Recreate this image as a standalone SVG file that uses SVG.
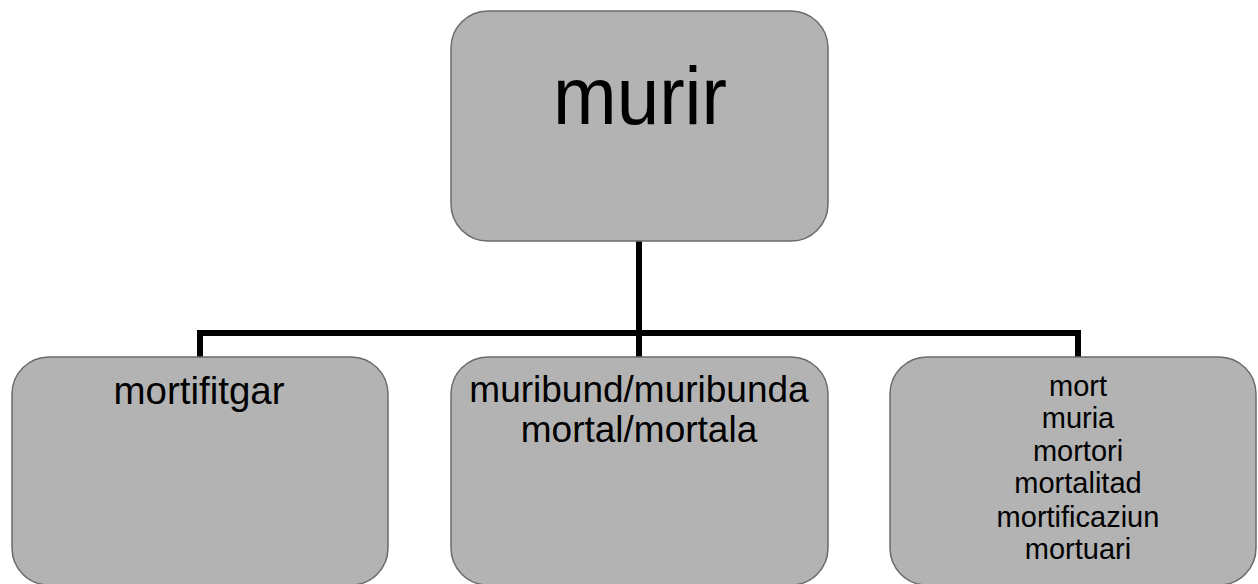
<svg xmlns="http://www.w3.org/2000/svg" width="1258" height="584" viewBox="0 0 1258 584">
  <style>
    .box { fill: #b3b3b3; stroke: #6b6b6b; stroke-width: 1.5; }
    .lbl { font-family: "Liberation Sans", Arial, sans-serif; fill: #000; text-anchor: middle; }
    .wire { fill: none; stroke: #000; stroke-width: 6; stroke-linecap: butt; stroke-linejoin: miter; }
  </style>
  <rect width="1258" height="584" fill="#fff"/>

  <!-- tree connectors -->
  <g id="connectors">
    <path class="wire" d="M639 241 V333"/>
    <path class="wire" d="M200 357 V333 H1078 V357"/>
    <path class="wire" d="M639 333 V357"/>
  </g>

  <g id="node-murir">
    <rect class="box" x="451" y="11" width="377" height="230" rx="37" ry="37"/>
    <text class="lbl" x="640" y="124" font-size="81" textLength="174" lengthAdjust="spacingAndGlyphs">murir</text>
  </g>

  <g id="node-mortifitgar">
    <rect class="box" x="12" y="357" width="376" height="228" rx="37" ry="37"/>
    <text class="lbl" x="199" y="404" font-size="38.5">mortifitgar</text>
  </g>

  <g id="node-muribund">
    <rect class="box" x="451" y="357" width="377" height="228" rx="37" ry="37"/>
    <text class="lbl" x="639" y="402" font-size="37">muribund/muribunda</text>
    <text class="lbl" x="639" y="442" font-size="37">mortal/mortala</text>
  </g>

  <g id="node-mort">
    <rect class="box" x="890" y="357" width="366" height="228" rx="37" ry="37"/>
    <g font-size="29">
      <text class="lbl" x="1078" y="396">mort</text>
      <text class="lbl" x="1078" y="428">muria</text>
      <text class="lbl" x="1078" y="461">mortori</text>
      <text class="lbl" x="1078" y="493">mortalitad</text>
      <text class="lbl" x="1078" y="527">mortificaziun</text>
      <text class="lbl" x="1078" y="559">mortuari</text>
    </g>
  </g>
</svg>
